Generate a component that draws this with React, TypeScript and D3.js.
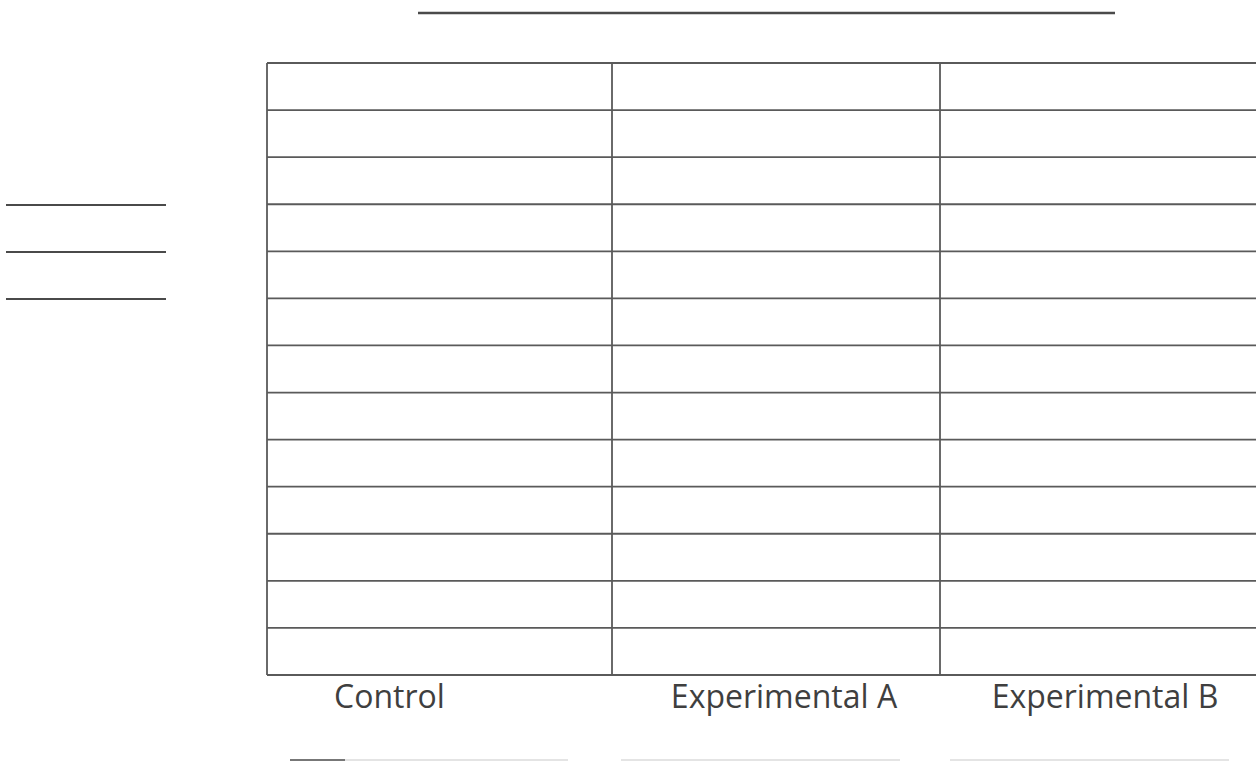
import React, { useEffect, useRef } from 'react';
import * as d3 from 'd3';

// Blank worksheet graph: three treatment columns, 13 empty rows
const categories = ['Control', 'Experimental A', 'Experimental B'];
const rowCount = 13;
// blank answer lines: title, key (left) and a line under each column
const keyLines = [0, 1, 2];

const WIDTH = 1256;
const HEIGHT = 761;
const GRID = { left: 267, top: 63, bottom: 675 };
const COL_EDGES = [267, 612, 940, 1268];
const LABEL_SHIFT = [-50, 8, 1];

const App: React.FC = () => {
  const svgRef = useRef<SVGSVGElement>(null);

  useEffect(() => {
    if (!svgRef.current) return;
    const svg = d3.select(svgRef.current);
    svg.selectAll('*').remove();

    const x = d3.scaleLinear()
      .domain(d3.range(categories.length + 1))
      .range(COL_EDGES);
    const y = d3.scaleLinear()
      .domain([0, rowCount])
      .range([GRID.bottom, GRID.top]);

    svg.append('rect')
      .attr('width', WIDTH)
      .attr('height', HEIGHT)
      .attr('fill', '#ffffff');

    const g = svg.append('g');

    // horizontal rules
    g.selectAll('line.row')
      .data(d3.range(rowCount + 1))
      .join('line')
      .attr('class', 'row')
      .attr('x1', x(0))
      .attr('x2', x(categories.length))
      .attr('y1', d => y(d))
      .attr('y2', d => y(d))
      .attr('stroke', '#5a5a5a')
      .attr('stroke-width', 1.8);

    // vertical column dividers (no right border: it runs off the page)
    g.selectAll('line.col')
      .data(d3.range(categories.length))
      .join('line')
      .attr('class', 'col')
      .attr('x1', d => x(d))
      .attr('x2', d => x(d))
      .attr('y1', y(rowCount))
      .attr('y2', y(0))
      .attr('stroke', '#5a5a5a')
      .attr('stroke-width', 1.8);

    // column labels
    g.selectAll('text.cat')
      .data(categories)
      .join('text')
      .attr('class', 'cat')
      .attr('x', (d, i) => (x(i) + x(i + 1)) / 2 + LABEL_SHIFT[i])
      .attr('y', 708)
      .attr('text-anchor', 'middle')
      .attr('fill', '#3f3f3f')
      .style('font-family', '"Open Sans", "Noto Sans", sans-serif')
      .style('font-size', '32px')
      .text(d => d);

    // title blank
    svg.append('line')
      .attr('x1', 418).attr('x2', 1115)
      .attr('y1', 13).attr('y2', 13)
      .attr('stroke', '#4a4a4a')
      .attr('stroke-width', 2.5);

    // key blanks on the left
    svg.selectAll('line.key')
      .data(keyLines)
      .join('line')
      .attr('class', 'key')
      .attr('x1', 6).attr('x2', 166)
      .attr('y1', d => 205 + d * 47)
      .attr('y2', d => 205 + d * 47)
      .attr('stroke', '#4a4a4a')
      .attr('stroke-width', 2);

    // faint lines under each column, at the very bottom of the page
    const under = [[290, 568], [621, 900], [950, 1229]];
    svg.selectAll('line.under')
      .data(under)
      .join('line')
      .attr('class', 'under')
      .attr('x1', d => d[0]).attr('x2', d => d[1])
      .attr('y1', 760).attr('y2', 760)
      .attr('stroke', '#e4e4e4')
      .attr('stroke-width', 2);
    svg.append('line')
      .attr('x1', 290).attr('x2', 345)
      .attr('y1', 760).attr('y2', 760)
      .attr('stroke', '#777')
      .attr('stroke-width', 2);
  }, []);

  return (
    <svg
      ref={svgRef}
      width={WIDTH}
      height={HEIGHT}
      style={{ position: 'absolute', left: 0, top: 0, display: 'block' }}
    />
  );
};

export default App;
